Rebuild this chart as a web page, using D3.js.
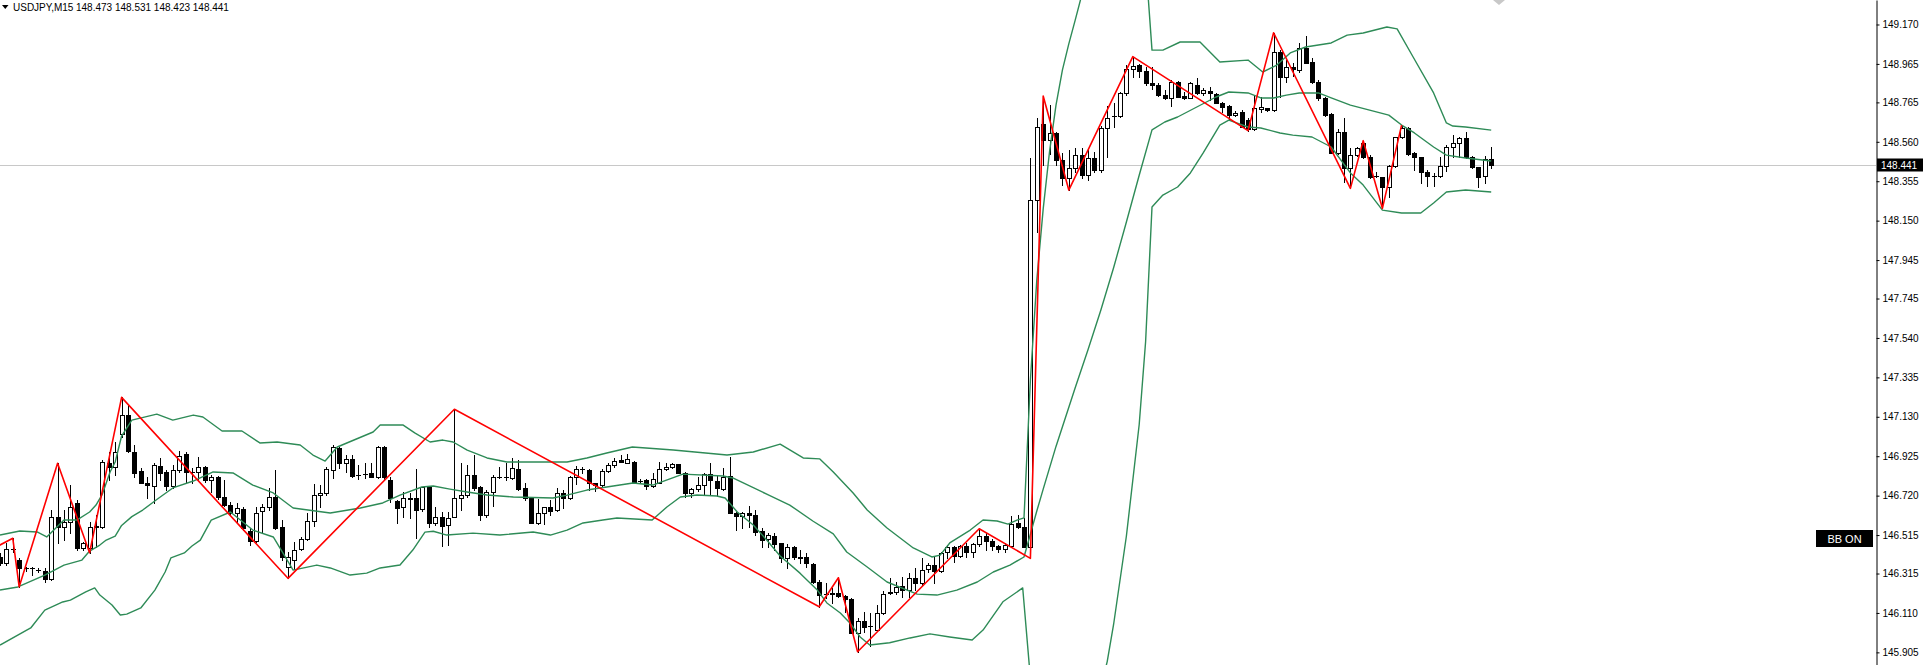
<!DOCTYPE html>
<html><head><meta charset="utf-8">
<script src="https://cdn.jsdelivr.net/npm/d3@7"></script>
<style>
html,body{margin:0;padding:0;background:#fff;overflow:hidden;}
svg{display:block;}
text{font-family:"Liberation Sans",Arial,sans-serif;}
</style></head><body>
<svg id="chart" width="1923" height="665"></svg>
<script>
const symbolTitle = "USDJPY,M15";
const headerValues = ["148.473", "148.531", "148.423", "148.441"];
const indicatorLabel = "BB ON";
const lastPrice = 148.441;

const opens = [146.402,146.368,146.443,146.385,146.343,146.342,146.333,146.329,146.286,146.610,
146.558,146.584,146.680,146.446,146.446,146.558,146.558,146.888,146.867,147.040,
147.139,146.948,146.849,146.787,146.770,146.874,146.844,146.770,146.853,146.936,
146.845,146.844,146.867,146.801,146.818,146.711,146.671,146.628,146.649,146.537,
146.485,146.641,146.662,146.711,146.558,146.350,146.385,146.441,146.493,146.589,
146.723,146.735,146.853,146.969,146.891,146.912,146.826,146.831,146.836,146.818,
146.975,146.801,146.693,146.659,146.705,146.706,146.649,146.766,146.579,146.607,
146.567,146.610,146.706,146.723,146.827,146.766,146.619,146.740,146.817,146.818,
146.810,146.857,146.758,146.706,146.579,146.628,146.659,146.645,146.732,146.706,
146.818,146.856,146.853,146.784,146.775,146.849,146.879,146.905,146.891,146.896,
146.795,146.801,146.770,146.787,146.857,146.870,146.883,146.839,146.732,146.753,
146.775,146.832,146.797,146.753,146.822,146.631,146.614,146.631,146.619,146.536,
146.493,146.510,146.472,146.394,146.454,146.398,146.399,146.364,146.272,146.206,
146.207,146.215,146.198,146.180,146.007,146.070,146.040,146.021,146.111,146.212,
146.220,146.250,146.229,146.290,146.264,146.337,146.359,146.329,146.428,146.454,
146.406,146.460,146.428,146.467,146.510,146.484,146.458,146.444,146.458,146.579,
146.558,146.454,148.257,148.653,148.569,148.606,148.465,148.372,148.424,148.491,
148.387,148.476,148.413,148.632,148.693,148.694,148.812,148.937,148.958,148.930,
148.867,148.855,148.803,148.786,148.873,148.798,148.789,148.855,148.815,148.826,
148.809,148.763,148.746,148.699,148.716,148.673,148.625,148.729,148.734,148.725,
149.028,148.899,148.947,148.933,149.046,148.976,148.873,148.786,148.705,148.503,
148.612,148.422,148.491,148.552,148.482,148.381,148.375,148.323,148.434,148.583,
148.630,148.503,148.479,148.404,148.383,148.384,148.434,148.534,148.552,148.578,
148.482,148.427,148.382,148.473];

const highs = [146.421,146.472,146.498,146.394,146.350,146.350,146.342,146.342,146.645,146.888,
146.645,146.775,146.697,146.480,146.584,146.619,146.905,146.948,147.000,147.231,
147.191,146.983,146.862,146.818,146.888,146.914,146.853,146.879,146.953,146.948,
146.862,146.919,146.874,146.827,146.822,146.801,146.688,146.680,146.662,146.550,
146.662,146.676,146.758,146.853,146.593,146.428,146.480,146.506,146.631,146.780,
146.775,146.870,146.983,146.975,146.931,146.931,146.879,146.891,146.891,146.978,
146.978,146.818,146.697,146.740,146.732,146.857,146.766,146.770,146.662,146.636,
146.636,147.169,146.888,146.879,146.931,146.770,146.749,146.827,146.870,146.891,
146.914,146.905,146.784,146.714,146.701,146.662,146.697,146.758,146.749,146.822,
146.874,146.870,146.857,146.784,146.857,146.888,146.914,146.931,146.936,146.900,
146.805,146.805,146.839,146.896,146.888,146.888,146.884,146.844,146.758,146.818,
146.836,146.891,146.822,146.862,146.919,146.636,146.636,146.666,146.645,146.550,
146.527,146.527,146.475,146.468,146.458,146.437,146.420,146.368,146.281,146.267,
146.238,146.293,146.203,146.186,146.082,146.115,146.108,146.151,146.226,146.290,
146.272,146.295,146.319,146.342,146.394,146.371,146.406,146.428,146.463,146.458,
146.465,146.472,146.472,146.548,146.524,146.493,146.463,146.475,146.614,146.619,
146.602,148.476,148.684,148.798,148.751,148.611,148.502,148.517,148.528,148.528,
148.517,148.507,148.642,148.746,148.762,148.820,148.959,149.003,148.965,148.951,
148.951,148.864,148.829,148.881,148.878,148.820,148.872,148.890,148.838,148.843,
148.812,148.768,148.751,148.722,148.725,148.682,148.803,148.795,148.737,149.127,
149.037,148.985,148.971,149.072,149.110,148.994,148.881,148.795,148.708,148.625,
148.682,148.526,148.535,148.566,148.491,148.404,148.378,148.439,148.587,148.647,
148.635,148.508,148.482,148.413,148.396,148.482,148.543,148.595,148.587,148.612,
148.486,148.431,148.486,148.531];

const lows = [146.359,146.359,146.428,146.246,146.329,146.307,146.324,146.269,146.281,146.472,
146.489,146.524,146.437,146.437,146.423,146.454,146.550,146.801,146.827,147.026,
146.948,146.818,146.784,146.706,146.680,146.801,146.749,146.758,146.844,146.792,
146.787,146.801,146.792,146.740,146.700,146.666,146.619,146.584,146.541,146.463,
146.480,146.532,146.645,146.548,146.385,146.290,146.337,146.437,146.491,146.562,
146.662,146.723,146.810,146.862,146.844,146.818,146.805,146.810,146.815,146.813,
146.801,146.688,146.576,146.610,146.602,146.498,146.642,146.558,146.567,146.458,
146.463,146.607,146.645,146.714,146.749,146.593,146.610,146.666,146.810,146.801,
146.805,146.749,146.697,146.576,146.572,146.572,146.619,146.642,146.654,146.700,
146.780,146.839,146.749,146.745,146.770,146.844,146.870,146.896,146.888,146.789,
146.784,146.753,146.763,146.784,146.853,146.865,146.839,146.714,146.714,146.745,
146.723,146.723,146.718,146.749,146.628,146.541,146.550,146.558,146.515,146.451,
146.454,146.437,146.376,146.342,146.389,146.368,146.347,146.267,146.142,146.186,
146.160,146.194,146.116,146.004,145.908,146.013,145.938,146.016,146.104,146.208,
146.208,146.194,146.194,146.229,146.255,146.324,146.264,146.324,146.394,146.376,
146.402,146.402,146.402,146.458,146.437,146.437,146.428,146.428,146.451,146.550,
146.451,146.394,148.091,148.439,148.497,148.439,148.335,148.309,148.403,148.372,
148.361,148.403,148.403,148.481,148.637,148.691,148.803,148.895,148.895,148.855,
148.833,148.798,148.781,148.746,148.791,148.781,148.786,148.808,148.803,148.777,
148.760,148.717,148.673,148.694,148.635,148.618,148.621,148.717,148.720,148.722,
148.795,148.872,148.902,148.925,148.968,148.867,148.777,148.694,148.500,148.496,
148.352,148.318,148.486,148.474,148.370,148.375,148.214,148.274,148.431,148.578,
148.491,148.413,148.347,148.330,148.330,148.378,148.410,148.482,148.479,148.477,
148.422,148.326,148.347,148.423];

const closes = [146.371,146.441,146.441,146.342,146.342,146.343,146.333,146.286,146.610,146.558,
146.584,146.662,146.446,146.472,146.558,146.560,146.896,146.867,146.948,147.139,
146.953,146.839,146.787,146.775,146.878,146.839,146.770,146.853,146.926,146.844,
146.844,146.867,146.801,146.815,146.711,146.671,146.628,146.654,146.550,146.485,
146.631,146.659,146.711,146.550,146.399,146.399,146.437,146.493,146.589,146.723,
146.735,146.857,146.975,146.888,146.912,146.822,146.825,146.833,146.818,146.975,
146.818,146.706,146.654,146.706,146.706,146.645,146.763,146.579,146.607,146.562,
146.602,146.706,146.723,146.827,146.758,146.619,146.740,146.818,146.818,146.819,
146.862,146.753,146.706,146.579,146.628,146.659,146.642,146.732,146.706,146.818,
146.857,146.857,146.784,146.775,146.849,146.879,146.901,146.896,146.912,146.792,
146.797,146.770,146.805,146.857,146.870,146.883,146.839,146.732,146.753,146.775,
146.832,146.801,146.758,146.818,146.631,146.614,146.631,146.621,146.532,146.489,
146.515,146.468,146.394,146.454,146.402,146.399,146.368,146.272,146.203,146.207,
146.215,146.200,146.180,146.007,146.070,146.038,146.041,146.111,146.208,146.220,
146.243,146.229,146.290,146.264,146.333,146.359,146.329,146.423,146.451,146.406,
146.460,146.428,146.467,146.510,146.486,146.458,146.444,146.462,146.572,146.555,
146.454,148.257,148.637,148.569,148.606,148.465,148.372,148.424,148.491,148.387,
148.476,148.413,148.632,148.684,148.694,148.812,148.937,148.954,148.930,148.867,
148.855,148.803,148.786,148.873,148.794,148.789,148.867,148.815,148.829,148.815,
148.763,148.742,148.699,148.711,148.638,148.625,148.734,148.739,148.725,149.028,
148.899,148.950,148.937,149.046,148.971,148.873,148.786,148.699,148.503,148.612,
148.422,148.491,148.526,148.482,148.378,148.382,148.323,148.434,148.583,148.630,
148.497,148.479,148.404,148.382,148.384,148.434,148.534,148.555,148.578,148.482,
148.427,148.378,148.469,148.441];

const priceTicks = [149.170,148.965,148.765,148.560,148.355,148.150,147.945,147.745,147.540,
147.335,147.130,146.925,146.720,146.515,146.315,146.110,145.905];

const zigzagPoints = [[-1,146.446],[2,146.498],[3,146.246],[9,146.888],[14,146.423],[19,147.231],
[45,146.290],[71,147.169],[128,146.142],[131,146.293],[134,145.908],[153,146.548],[161,146.394],
[163,148.798],[167,148.309],[177,149.003],[195,148.618],[199,149.127],[211,148.318],[213,148.566],
[216,148.214],[219,148.647]];

const bbUpper = [[0,146.515],[3.1,146.536],[5.8,146.531],[7.3,146.505],[10,146.593],[12,146.593],
[14,146.635],[15,146.671],[16,146.728],[17.2,146.843],[18,146.895],[19,147.030],[20.6,147.113],
[24.5,147.144],[27,147.113],[30.2,147.139],[31.7,147.129],[34.7,147.056],[37.8,147.056],
[40.6,146.994],[43.3,146.999],[46.9,146.983],[48.9,146.931],[50.8,146.900],[52.7,146.973],
[58.3,147.051],[59.4,147.087],[63,147.087],[64.8,147.046],[67.2,146.999],[69.2,147.009],
[70.8,146.999],[73,146.957],[76.1,146.916],[79.2,146.895],[83.3,146.895],[88.6,146.895],
[91.7,146.916],[94.8,146.942],[98.8,146.973],[105.2,146.957],[113.6,146.931],[117.7,146.947],
[121.9,146.988],[125.5,146.916],[128.1,146.911],[130.2,146.843],[133.3,146.734],[135.5,146.645],
[138.6,146.552],[142.7,146.448],[145.6,146.401],[146.9,146.411],[148.4,146.474],[151.6,146.541],
[153.6,146.593],[155.8,146.588],[157.5,146.572],[158.9,146.593],[160,146.604],[161,147.321],
[162,147.841],[163,148.211],[164,148.512],[165,148.751],[166,148.933],[167,149.069],[168,149.193],
[169,149.32],[170,149.45],[172,149.65],[175,149.80],[177,149.75],[179,149.50],[180,149.037],
[181.7,149.037],[184.4,149.079],[187.5,149.079],[190.6,148.975],[195,148.985],[197.3,148.923],
[199.5,148.959],[201.6,149.022],[204,149.053],[208,149.074],[210.5,149.115],[213,149.126],
[216.7,149.157],[218.3,149.147],[220.8,149.001],[224,148.814],[226,148.658],[227,148.642],
[229,148.637],[233,148.621]];

const bbMiddle = [[0,146.229],[2.8,146.245],[7,146.307],[10,146.359],[12.8,146.385],[14,146.432],
[15.6,146.463],[16.6,146.489],[18,146.510],[19,146.565],[20.6,146.611],[22.3,146.645],[24.5,146.700],
[27,146.760],[30.2,146.796],[33.3,146.843],[36.4,146.838],[39.5,146.775],[42.7,146.734],
[45.8,146.656],[51.6,146.630],[56.3,146.656],[59.8,146.682],[62.5,146.723],[65.9,146.765],
[67.7,146.770],[70.3,146.754],[73,146.739],[76.1,146.723],[80.2,146.713],[86.4,146.708],
[88.6,146.723],[91.7,146.749],[94.8,146.765],[98.9,146.786],[102,146.775],[106.7,146.832],
[113,146.822],[114.5,146.812],[119.8,146.728],[123.4,146.671],[127,146.588],[130.2,146.521],
[132.3,146.427],[135.5,146.349],[138.6,146.271],[143.3,146.208],[146.4,146.203],[149.5,146.229],
[152.7,146.271],[155.2,146.323],[157.8,146.359],[160,146.401],[161,146.52],[162,146.64],
[163,146.754],[165,146.976],[168,147.281],[170,147.479],[172,147.684],[174,147.905],[176,148.143],
[178,148.386],[180,148.622],[182,148.663],[184,148.689],[187,148.741],[190,148.793],[192,148.819],
[195,148.814],[197,148.788],[199,148.788],[201,148.803],[203,148.814],[206,148.814],[208,148.788],
[211,148.751],[214,148.725],[217,148.699],[219,148.647],[221,148.606],[224,148.533],[226,148.491],
[229,148.476],[233,148.460]];

const bbLower = [[0,145.943],[4.8,146.032],[7,146.125],[9.8,146.167],[11,146.177],[13.4,146.219],
[14.8,146.240],[15.6,146.203],[17.5,146.151],[18.8,146.099],[19.8,146.104],[22,146.136],
[24.2,146.229],[25.8,146.323],[26.7,146.396],[28.8,146.422],[30,146.458],[31.3,146.489],
[33,146.593],[36,146.635],[39.5,146.541],[42.7,146.505],[44.2,146.422],[45.8,146.333],
[49.5,146.359],[51.6,146.344],[54.7,146.307],[57.3,146.317],[59.4,146.344],[62.5,146.359],
[64.5,146.437],[66.4,146.530],[67.7,146.535],[69.8,146.515],[73.9,146.525],[78.1,146.515],
[83.3,146.531],[86,146.515],[88.6,146.541],[91.1,146.578],[94.2,146.593],[96.4,146.604],
[101.9,146.593],[104.2,146.661],[106.3,146.713],[108.9,146.723],[112,146.718],[113.3,146.708],
[115.2,146.635],[117.7,146.567],[119.8,146.489],[121.9,146.406],[125,146.317],[127.7,146.229],
[129.2,146.162],[131.3,146.110],[132.8,146.058],[134.4,145.985],[135.9,145.943],[139,145.955],
[142.2,145.980],[145.3,146.001],[148.4,145.985],[151.9,145.969],[153.6,146.021],[156.7,146.168],
[159.8,146.240],[161,145.77],[162,145.45],[163,145.30],[164,145.21],[165,145.18],[166,145.19],
[168,145.25],[170,145.45],[172,145.72],[173,145.857],[174,146.05],[176,146.51],[178,147.09],
[179,147.52],[180,148.221],[181.7,148.283],[184,148.325],[186,148.398],[188,148.502],
[190.6,148.647],[192,148.673],[195,148.637],[197,148.632],[200,148.606],[202,148.595],
[205,148.585],[208,148.533],[211,148.398],[213,148.335],[216,148.205],[219,148.190],[222,148.190],
[224,148.242],[226,148.299],[229,148.309],[233,148.299]];

// ---------------- drawing ----------------
const W = 1923, H = 665, axisX = 1876, step = 6.4;
const svg = d3.select("#chart");
const y = d3.scaleLinear().domain([149.2974, 145.8393]).range([0, H]);
const x = d3.scaleLinear().domain([0, 233]).range([0, 233 * step]);

svg.append("rect").attr("width", W).attr("height", H).attr("fill", "#ffffff");
svg.append("defs").append("clipPath").attr("id", "plotClip")
  .append("rect").attr("x", 0).attr("y", 0).attr("width", axisX).attr("height", H);

const plot = svg.append("g").attr("clip-path", "url(#plotClip)");

// current price line
const yLast = Math.round(y(lastPrice)) + 0.5;
plot.append("line").attr("x1", 0).attr("x2", axisX).attr("y1", yLast).attr("y2", yLast)
  .attr("stroke", "#c8c8c8").attr("stroke-width", 1);

// candles
const candles = opens.map((o, i) => ({ i, o, h: highs[i], l: lows[i], c: closes[i] }));
const cg = plot.append("g").attr("shape-rendering", "crispEdges");
const cs = cg.selectAll("g.candle").data(candles).join("g").attr("class", "candle");
cs.append("line")
  .attr("x1", d => Math.round(x(d.i)) + 0.5).attr("x2", d => Math.round(x(d.i)) + 0.5)
  .attr("y1", d => Math.round(y(d.h))).attr("y2", d => Math.round(y(d.l)) + 1)
  .attr("stroke", "#000").attr("stroke-width", 1);
cs.each(function (d) {
  const g = d3.select(this);
  const cx = Math.round(x(d.i));
  const t = Math.round(Math.min(y(d.o), y(d.c)));
  const b = Math.round(Math.max(y(d.o), y(d.c)));
  if (b - t < 1) {
    g.append("line").attr("x1", cx - 2).attr("x2", cx + 3).attr("y1", t + 0.5).attr("y2", t + 0.5)
      .attr("stroke", "#000");
  } else if (d.c >= d.o) {
    g.append("rect").attr("x", cx - 1.5).attr("y", t + 0.5).attr("width", 4).attr("height", b - t)
      .attr("fill", "#fff").attr("stroke", "#000").attr("stroke-width", 1);
  } else {
    g.append("rect").attr("x", cx - 2).attr("y", t).attr("width", 5).attr("height", b - t + 1)
      .attr("fill", "#000");
  }
});

// Bollinger bands
const bandLine = d3.line().x(d => x(d[0])).y(d => y(d[1]));
[bbUpper, bbMiddle, bbLower].forEach(s => {
  plot.append("path").datum(s).attr("d", bandLine).attr("fill", "none")
    .attr("stroke", "#2e8b57").attr("stroke-width", 1.4).attr("stroke-linejoin", "round");
});

// ZigZag
plot.append("path").datum(zigzagPoints).attr("d", bandLine).attr("fill", "none")
  .attr("stroke", "#ff0000").attr("stroke-width", 1.6).attr("stroke-linejoin", "round");

// price axis
const axis = d3.axisRight(y).tickValues(priceTicks).tickFormat(d3.format(".3f"))
  .tickSize(3).tickSizeOuter(0).tickPadding(3);
const ag = svg.append("g").attr("transform", `translate(${axisX + 0.5},0)`).call(axis);
ag.select(".domain").attr("stroke", "#000");
ag.selectAll(".tick line").attr("stroke", "#000");
ag.selectAll(".tick text").attr("fill", "#000").attr("font-size", 10)
  .attr("font-family", "'Liberation Sans', Arial, sans-serif");

// last price tag
svg.append("rect").attr("x", axisX + 1).attr("y", yLast - 7).attr("width", W - axisX - 1).attr("height", 13)
  .attr("fill", "#000");
svg.append("text").attr("x", axisX + 5).attr("y", yLast + 3.5).attr("fill", "#fff")
  .attr("font-size", 10).text(d3.format(".3f")(lastPrice));

// BB ON label
svg.append("rect").attr("x", 1816).attr("y", 530).attr("width", 57).attr("height", 17).attr("fill", "#000");
svg.append("text").attr("x", 1844.5).attr("y", 542.5).attr("text-anchor", "middle").attr("fill", "#fff")
  .attr("font-size", 11).text(indicatorLabel);

// shift marker
svg.append("path").attr("d", "M1493,0L1505,0L1499,5Z").attr("fill", "#c8c8c8");

// header
svg.append("path").attr("d", "M2,5L8.5,5L5.25,9Z").attr("fill", "#000");
svg.append("text").attr("x", 13).attr("y", 11).attr("font-size", 10).attr("fill", "#000").text(symbolTitle);
svg.append("text").attr("x", 76).attr("y", 11).attr("font-size", 10).attr("fill", "#000")
  .text(headerValues.join(" "));
</script>
</body></html>
